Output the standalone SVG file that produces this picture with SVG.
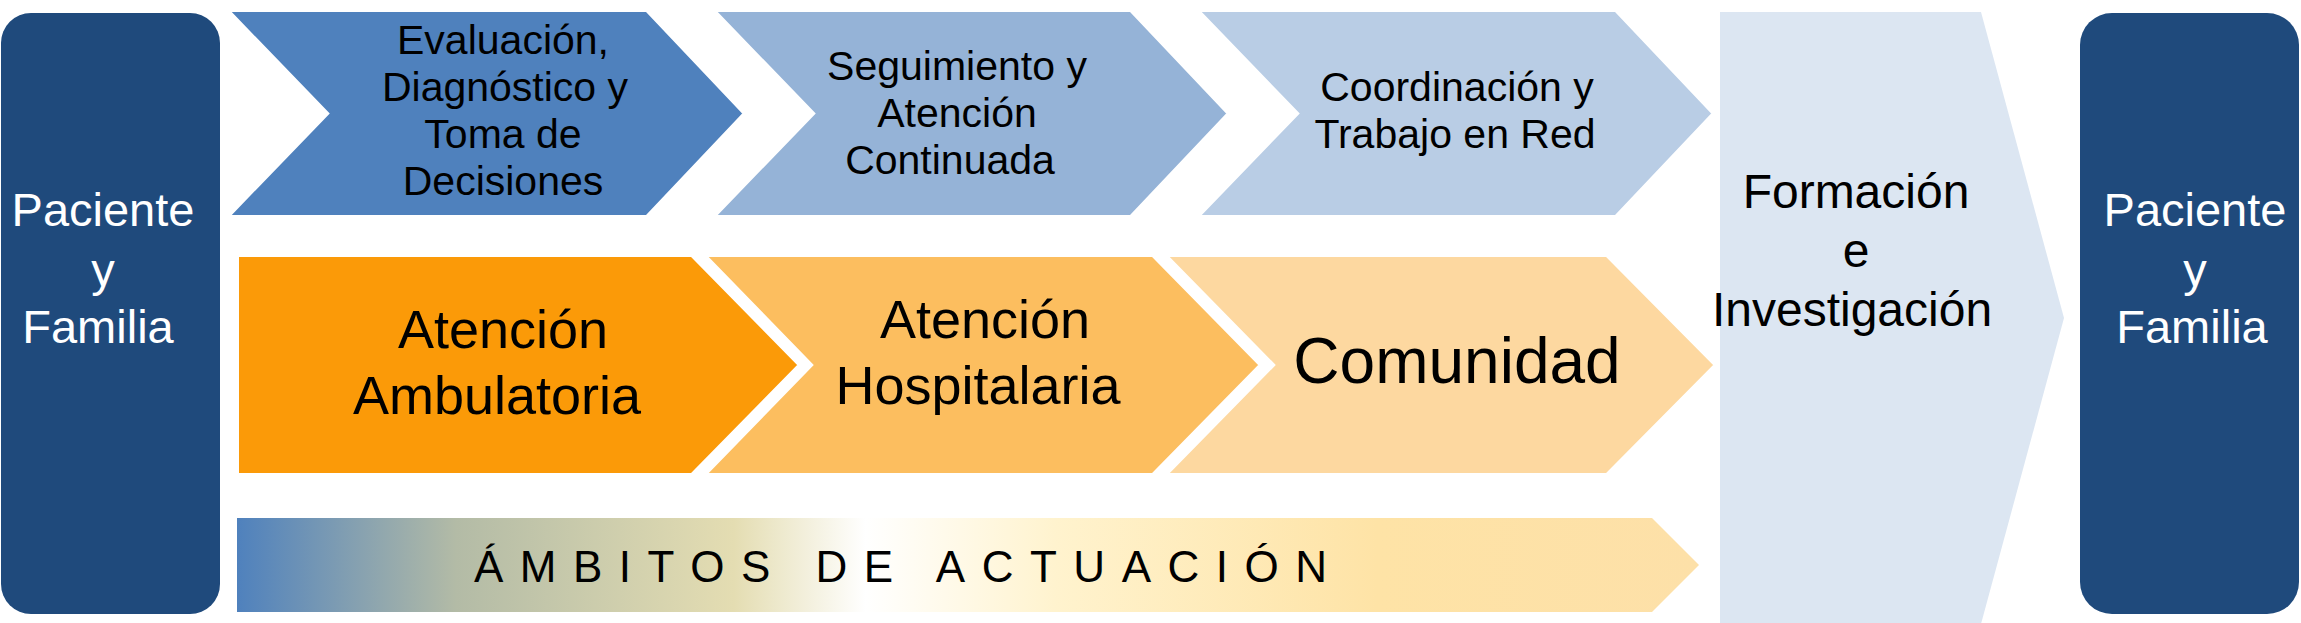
<svg xmlns="http://www.w3.org/2000/svg" width="2301" height="623" viewBox="0 0 2301 623">
<defs>
<linearGradient id="gbar" x1="237" y1="0" x2="1699" y2="0" gradientUnits="userSpaceOnUse">
<stop offset="0" stop-color="#4F81BD"/>
<stop offset="0.15" stop-color="#B3BBA6"/>
<stop offset="0.34" stop-color="#E4DDB2"/>
<stop offset="0.43" stop-color="#FFFFFF"/>
<stop offset="0.56" stop-color="#FFF3CE"/>
<stop offset="0.78" stop-color="#FEE3A6"/>
<stop offset="1" stop-color="#FDE0A8"/>
</linearGradient>
</defs>
<style>
.box{fill:#1F4A7C}
.wt{fill:#FFFFFF;font-family:"Liberation Sans",Arial,Helvetica,sans-serif;font-size:47px;text-anchor:middle}
.bt{fill:#000000;font-family:"Liberation Sans",Arial,Helvetica,sans-serif;text-anchor:middle}
.chev{stroke:#FFFFFF;stroke-width:4;stroke-linejoin:miter}
.t41{font-size:41px}
.t54{font-size:54px}
</style>
<rect width="2301" height="623" fill="#FFFFFF"/>

<g id="formacion">
<polygon points="1720,12 1981,12 2064,318 1981,624 1720,624" fill="#DCE6F2"/>
<text class="bt" font-size="48" x="1856" y="208">Formación</text>
<text class="bt" font-size="48" x="1856" y="267">e</text>
<text class="bt" font-size="48" x="1852" y="326">Investigación</text>
</g>

<g id="paciente-izq">
<rect class="box" x="1" y="13" width="219" height="601" rx="30" ry="30"/>
<text class="wt" x="103" y="226">Paciente</text>
<text class="wt" x="103" y="286">y</text>
<text class="wt" x="98" y="343">Familia</text>
</g>

<g id="paciente-der">
<rect class="box" x="2080" y="13" width="219" height="601" rx="32" ry="32"/>
<text class="wt" x="2195" y="226">Paciente</text>
<text class="wt" x="2195" y="286">y</text>
<text class="wt" x="2192" y="343">Familia</text>
</g>

<g id="evaluacion">
<polygon class="chev" points="227,10 647,10 745,113.5 647,217 227,217 327,113.5" fill="#4F81BD"/>
<text class="bt t41" x="503" y="54">Evaluación,</text>
<text class="bt t41" x="505" y="101">Diagnóstico y</text>
<text class="bt t41" x="503" y="148">Toma de</text>
<text class="bt t41" x="503" y="195">Decisiones</text>
</g>

<g id="seguimiento">
<polygon class="chev" points="713,10 1131,10 1229,113.5 1131,217 713,217 813,113.5" fill="#95B3D7"/>
<text class="bt t41" x="957" y="80">Seguimiento y</text>
<text class="bt t41" x="957" y="127">Atención</text>
<text class="bt t41" x="950" y="174">Continuada</text>
</g>

<g id="coordinacion">
<polygon class="chev" points="1197,10 1616,10 1714,113.5 1616,217 1197,217 1297,113.5" fill="#B9CDE5"/>
<text class="bt t41" x="1457" y="101">Coordinación y</text>
<text class="bt t41" x="1455" y="148">Trabajo en Red</text>
</g>

<g id="ambulatoria">
<polygon class="chev" points="237,255 692,255 800,365 692,475 237,475" fill="#FB9A08"/>
<text class="bt t54" x="503" y="348">Atención</text>
<text class="bt t54" x="497" y="414">Ambulatoria</text>
</g>

<g id="hospitalaria">
<polygon class="chev" points="704,255 1153,255 1261,365 1153,475 704,475 811,365" fill="#FCBE5F"/>
<text class="bt t54" x="985" y="338">Atención</text>
<text class="bt t54" x="978" y="404">Hospitalaria</text>
</g>

<g id="comunidad">
<polygon class="chev" points="1165,255 1607,255 1716,365 1607,475 1165,475 1273,365" fill="#FDD8A0"/>
<text class="bt" font-size="64" x="1457" y="383">Comunidad</text>
</g>

<g id="ambitos">
<polygon points="237,518 1652,518 1699,565 1652,612 237,612" fill="url(#gbar)"/>
<text x="474" y="582" font-family="'Liberation Sans',Arial,Helvetica,sans-serif" font-size="44" letter-spacing="16.5" fill="#000000">ÁMBITOS DE ACTUACIÓN</text>
</g>

<g id="connectors"></g>
</svg>
